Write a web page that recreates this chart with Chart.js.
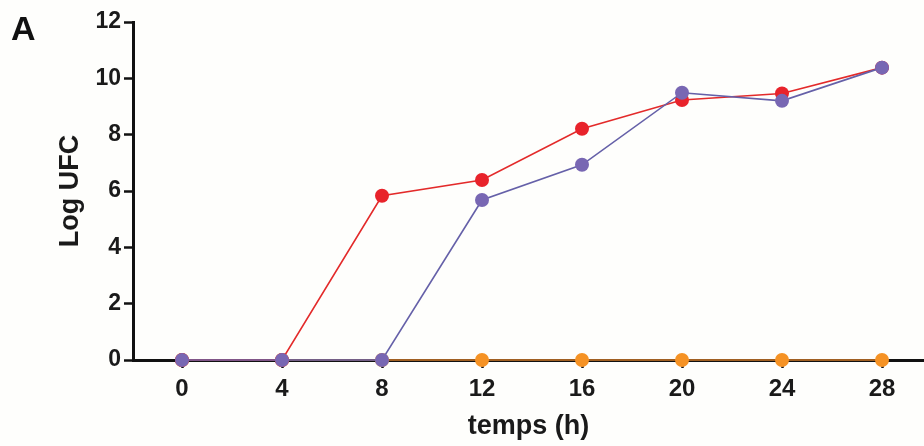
<!DOCTYPE html>
<html>
<head>
<meta charset="utf-8">
<script src="https://cdn.jsdelivr.net/npm/chart.js@4.4.1/dist/chart.umd.min.js"></script>
<style>
  html, body { margin: 0; padding: 0; background: #fefefc; }
  #wrap { position: relative; width: 924px; height: 446px; }
  #panel { position: absolute; left: 11px; top: 8px; font: bold 34px "Liberation Sans", Arial, sans-serif; color: #111; line-height: 40px; }
</style>
</head>
<body>
<div id="wrap">
  <canvas id="growthChart" width="924" height="446"></canvas>
  <div id="panel">A</div>
</div>
<script>
// temps (h)
let hours = [0, 4, 8, 12, 16, 20, 24, 28]
let yTicks = [0, 2, 4, 6, 8, 10, 12]

// Log UFC per series
let redValues = [0, 0, 5.83, 6.39, 8.21, 9.23, 9.46, 10.38]
let purpleValues = [0, 0, 0, 5.68, 6.93, 9.49, 9.20, 10.38]
let orangeValues = [0, 0, 0, 0, 0, 0, 0, 0]

let fontFamily = '"Liberation Sans", Arial, sans-serif'

function toPoints(values) {
  return values.map((v, i) => ({ x: hours[i], y: v }))
}

let growthChart = document.getElementById('growthChart').getContext('2d')
let growth = new Chart(growthChart, {
  type: 'line',
  data: {
    datasets: [{
      label: 'violet',
      data: toPoints(purpleValues),
      borderColor: '#6560a8',
      backgroundColor: '#7867b3',
      borderWidth: 1.6,
      pointRadius: 7,
      pointBorderWidth: 0,
      clip: false,
      order: 1
    }, {
      label: 'rouge',
      data: toPoints(redValues),
      borderColor: '#e32a2a',
      backgroundColor: '#e8232b',
      borderWidth: 1.6,
      pointRadius: 7,
      pointBorderWidth: 0,
      clip: false,
      order: 2
    }, {
      label: 'orange',
      data: toPoints(orangeValues),
      borderColor: '#d07a28',
      backgroundColor: '#f59224',
      borderWidth: 1.6,
      pointRadius: 7,
      pointBorderWidth: 0,
      clip: false,
      order: 3
    }]
  },
  options: {
    responsive: false,
    animation: false,
    events: [],
    layout: { autoPadding: false, padding: { top: 22, right: 0, left: 0, bottom: 0 } },
    plugins: { legend: { display: false }, tooltip: { enabled: false } },
    scales: {
      x: {
        type: 'linear',
        min: -1.96,
        max: 29.68,
        afterBuildTicks: (scale) => { scale.ticks = hours.map(v => ({ value: v })) },
        afterFit: (scale) => { scale.height = 86; scale.paddingRight = 0; scale.paddingLeft = 0 },
        border: { display: true, color: '#111', width: 3 },
        grid: { drawOnChartArea: false, drawTicks: true, tickLength: 8, tickWidth: 2.5, tickColor: '#111' },
        ticks: { color: '#1a1a1a', padding: 7, maxRotation: 0, autoSkip: false, font: { family: fontFamily, size: 24, weight: 'bold' } },
        title: { display: true, text: 'temps (h)', color: '#1a1a1a', padding: { top: 0, bottom: 3 }, font: { family: fontFamily, size: 27, weight: 'bold' } }
      },
      y: {
        min: 0,
        max: 12,
        afterBuildTicks: (scale) => { scale.ticks = yTicks.map(v => ({ value: v })) },
        afterFit: (scale) => { scale.width = 133 },
        border: { display: true, color: '#111', width: 3 },
        grid: { drawOnChartArea: false, drawTicks: true, tickLength: 9, tickWidth: 2.5, tickColor: '#111' },
        ticks: { color: '#1a1a1a', padding: 3, font: { family: fontFamily, size: 23, weight: 'bold' } },
        title: { display: true, text: 'Log UFC', color: '#1a1a1a', padding: { top: 54, bottom: 0 }, font: { family: fontFamily, size: 27, weight: 'bold' } }
      }
    }
  }
})
</script>
</body>
</html>
